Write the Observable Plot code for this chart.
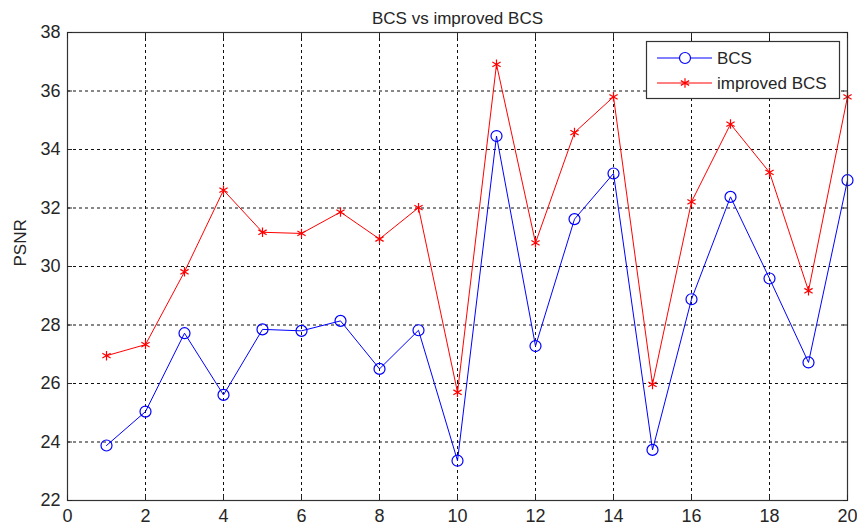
<!DOCTYPE html>
<html><head><meta charset="utf-8">
<script src="https://cdn.jsdelivr.net/npm/d3@7"></script>
<script src="https://cdn.jsdelivr.net/npm/@observablehq/plot@0.6"></script>
<style>body{margin:0;background:#fff;} #chart{position:relative;width:857px;height:529px;}</style>
</head><body><div id="chart"></div>
<script>
const title = "BCS vs improved BCS";
const yLabel = "PSNR";
const seriesNames = ["BCS", "improved BCS"];
const seriesColors = ["#0000ff", "#ff0000"];
const xValues = [1, 2, 3, 4, 5, 6, 7, 8, 9, 10, 11, 12, 13, 14, 15, 16, 17, 18, 19, 20];
const bcsValues = [23.88, 25.04, 27.72, 25.61, 27.85, 27.80, 28.14, 26.50, 27.82, 23.36, 34.46, 27.28, 31.62, 33.18, 23.73, 28.88, 32.38, 29.59, 26.72, 32.95];
const improvedValues = [26.95, 27.33, 29.82, 32.61, 31.17, 31.13, 31.86, 30.94, 32.01, 25.70, 36.91, 30.81, 34.58, 35.80, 25.97, 32.21, 34.87, 33.22, 29.17, 35.80];
const xTicks = [0, 2, 4, 6, 8, 10, 12, 14, 16, 18, 20];
const yTicks = [22, 24, 26, 28, 30, 32, 34, 36, 38];

const bcsRows = xValues.map((x, i) => ({x, y: bcsValues[i]}));
const impRows = xValues.map((x, i) => ({x, y: improvedValues[i]}));

const textColor = "#262626";
const font = "'Liberation Sans', Arial, Helvetica, sans-serif";

const plot = Plot.plot({
  width: 857,
  height: 529,
  marginLeft: 67,
  marginRight: 10,
  marginTop: 32,
  marginBottom: 29,
  style: {fontSize: "18px", fontFamily: font, color: textColor, background: "#fff"},
  x: {domain: [0, 20], axis: null},
  y: {domain: [22, 38], axis: null},
  marks: [
    Plot.gridX(xTicks, {stroke: "#111", strokeOpacity: 1, strokeDasharray: "3,3"}),
    Plot.gridY(yTicks, {stroke: "#111", strokeOpacity: 1, strokeDasharray: "3,3"}),
    Plot.line(bcsRows, {x: "x", y: "y", stroke: seriesColors[0], strokeWidth: 1}),
    Plot.line(impRows, {x: "x", y: "y", stroke: seriesColors[1], strokeWidth: 1}),
    Plot.dot(bcsRows, {x: "x", y: "y", r: 5.5, symbol: "circle", stroke: seriesColors[0], fill: "none", strokeWidth: 1.2}),
    Plot.dot(impRows, {x: "x", y: "y", r: 4.5, symbol: "asterisk", stroke: seriesColors[1], strokeWidth: 1.2}),
    Plot.frame({stroke: "#333", strokeWidth: 1.2}),
    Plot.axisX(xTicks, {anchor: "bottom", tickSize: -5, tickPadding: 14, label: null, color: textColor}),
    Plot.axisX(xTicks, {anchor: "top", tickSize: -5, tickFormat: () => "", label: null, color: textColor}),
    Plot.axisY(yTicks, {anchor: "left", tickSize: -5, tickPadding: 12, label: null, color: textColor}),
    Plot.axisY(yTicks, {anchor: "right", tickSize: -5, tickFormat: () => "", label: null, color: textColor}),
    Plot.text([title], {text: d => d, frameAnchor: "top", dy: -21, fontSize: 17, fill: textColor}),
    Plot.text([yLabel], {text: d => d, frameAnchor: "left", dx: -47, rotate: -90, fontSize: 17, fill: textColor})
  ]
});
document.getElementById("chart").appendChild(plot);

// Legend (box in the upper right corner of the axes)
const svg = d3.select(plot);
const lg = svg.append("g").attr("class", "legend").attr("text-anchor", "start");
lg.append("rect").attr("x", 646.5).attr("y", 41.5).attr("width", 193).attr("height", 57)
  .attr("fill", "#fff").attr("stroke", "#333").attr("stroke-width", 1.2);
const rowsY = [58, 83];
const symbols = [d3.symbolCircle, d3.symbolAsterisk];
const sizes = [Math.PI * 5.5 * 5.5, Math.PI * 4.5 * 4.5];
seriesNames.forEach((name, i) => {
  const yy = rowsY[i];
  lg.append("line").attr("x1", 657).attr("x2", 712).attr("y1", yy).attr("y2", yy)
    .attr("stroke", seriesColors[i]).attr("stroke-width", 1);
  lg.append("path").attr("transform", `translate(685,${yy})`)
    .attr("d", d3.symbol(symbols[i], sizes[i])())
    .attr("fill", i === 0 ? "#fff" : "none").attr("stroke", seriesColors[i]).attr("stroke-width", 1.2);
  lg.append("text").attr("x", 717).attr("y", yy).attr("dy", "0.35em").attr("text-anchor", "start")
    .attr("font-size", 17).attr("font-family", font).attr("fill", textColor).text(name);
});
</script>
</body></html>
